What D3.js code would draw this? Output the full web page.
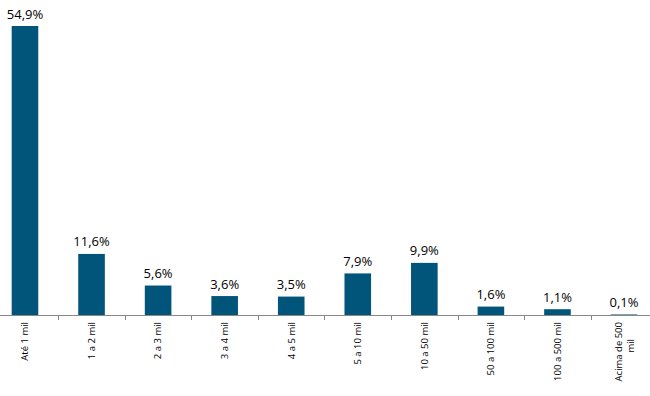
<!DOCTYPE html>
<html><head><meta charset="utf-8">
<script src="https://cdn.jsdelivr.net/npm/d3@7"></script>
<style>body{margin:0;background:#fff}svg{display:block}</style>
</head><body>
<svg id="c" width="650" height="396"></svg>
<script>
const categories = ["Até 1 mil","1 a 2 mil","2 a 3 mil","3 a 4 mil","4 a 5 mil","5 a 10 mil","10 a 50 mil","50 a 100 mil","100 a 500 mil","Acima de 500 mil"];
const values = [54.9, 11.6, 5.6, 3.6, 3.5, 7.9, 9.9, 1.6, 1.1, 0.1];
const valueLabels = ["54,9%","11,6%","5,6%","3,6%","3,5%","7,9%","9,9%","1,6%","1,1%","0,1%"];

const svg = d3.select("#c");
const baseY = 315;
const band = d3.scaleBand().domain(categories).range([-8.3, 657.3]);
const y = d3.scaleLinear().domain([0, 54.9]).range([baseY, 26]);

svg.selectAll("rect.bar").data(values).join("rect")
  .attr("class","bar")
  .attr("x",(d,i)=>band(categories[i]) + band.bandwidth()/2 - 13.3)
  .attr("width",26.6)
  .attr("y",d=>y(d))
  .attr("height",d=>baseY - y(d))
  .attr("fill","#02557a");

svg.selectAll("text.val").data(values).join("text")
  .attr("class","val")
  .attr("x",(d,i)=>band(categories[i]) + band.bandwidth()/2)
  .attr("y",d=>y(d) - 7.5)
  .attr("text-anchor","middle")
  .attr("font-family","'Open Sans', sans-serif")
  .attr("font-size",13)
  .attr("fill","#000")
  .text((d,i)=>valueLabels[i]);

const g = svg.append("g").attr("transform",`translate(0,${baseY})`);
g.append("line").attr("x1",0).attr("x2",650).attr("y1",0.5).attr("y2",0.5).attr("stroke","#888").attr("stroke-width",1);
const bounds = categories.map(c=>band(c)).concat([band(categories[categories.length-1]) + band.bandwidth()]);
g.selectAll("line.tk").data(bounds.filter(b=>b>0 && b<650)).join("line")
  .attr("class","tk")
  .attr("x1",d=>Math.round(d)+0.5).attr("x2",d=>Math.round(d)+0.5)
  .attr("y1",0).attr("y2",5)
  .attr("stroke","#888");

categories.forEach((c,i)=>{
  const cx = band(c) + band.bandwidth()/2;
  const t = svg.append("text")
    .attr("transform",`translate(${cx},322) rotate(-90)`)
    .attr("text-anchor","end")
    .attr("font-family","'Open Sans', sans-serif")
    .attr("font-size",9.5)
    .attr("fill","#000");
  if (c === "Acima de 500 mil") {
    t.append("tspan").attr("x",0).attr("dy","-0.2em").text("Acima de 500");
    t.append("tspan").attr("x",-17).attr("dy","1.2em").text("mil");
  } else {
    t.attr("dy","0.35em").text(c);
  }
});
</script>
</body></html>
